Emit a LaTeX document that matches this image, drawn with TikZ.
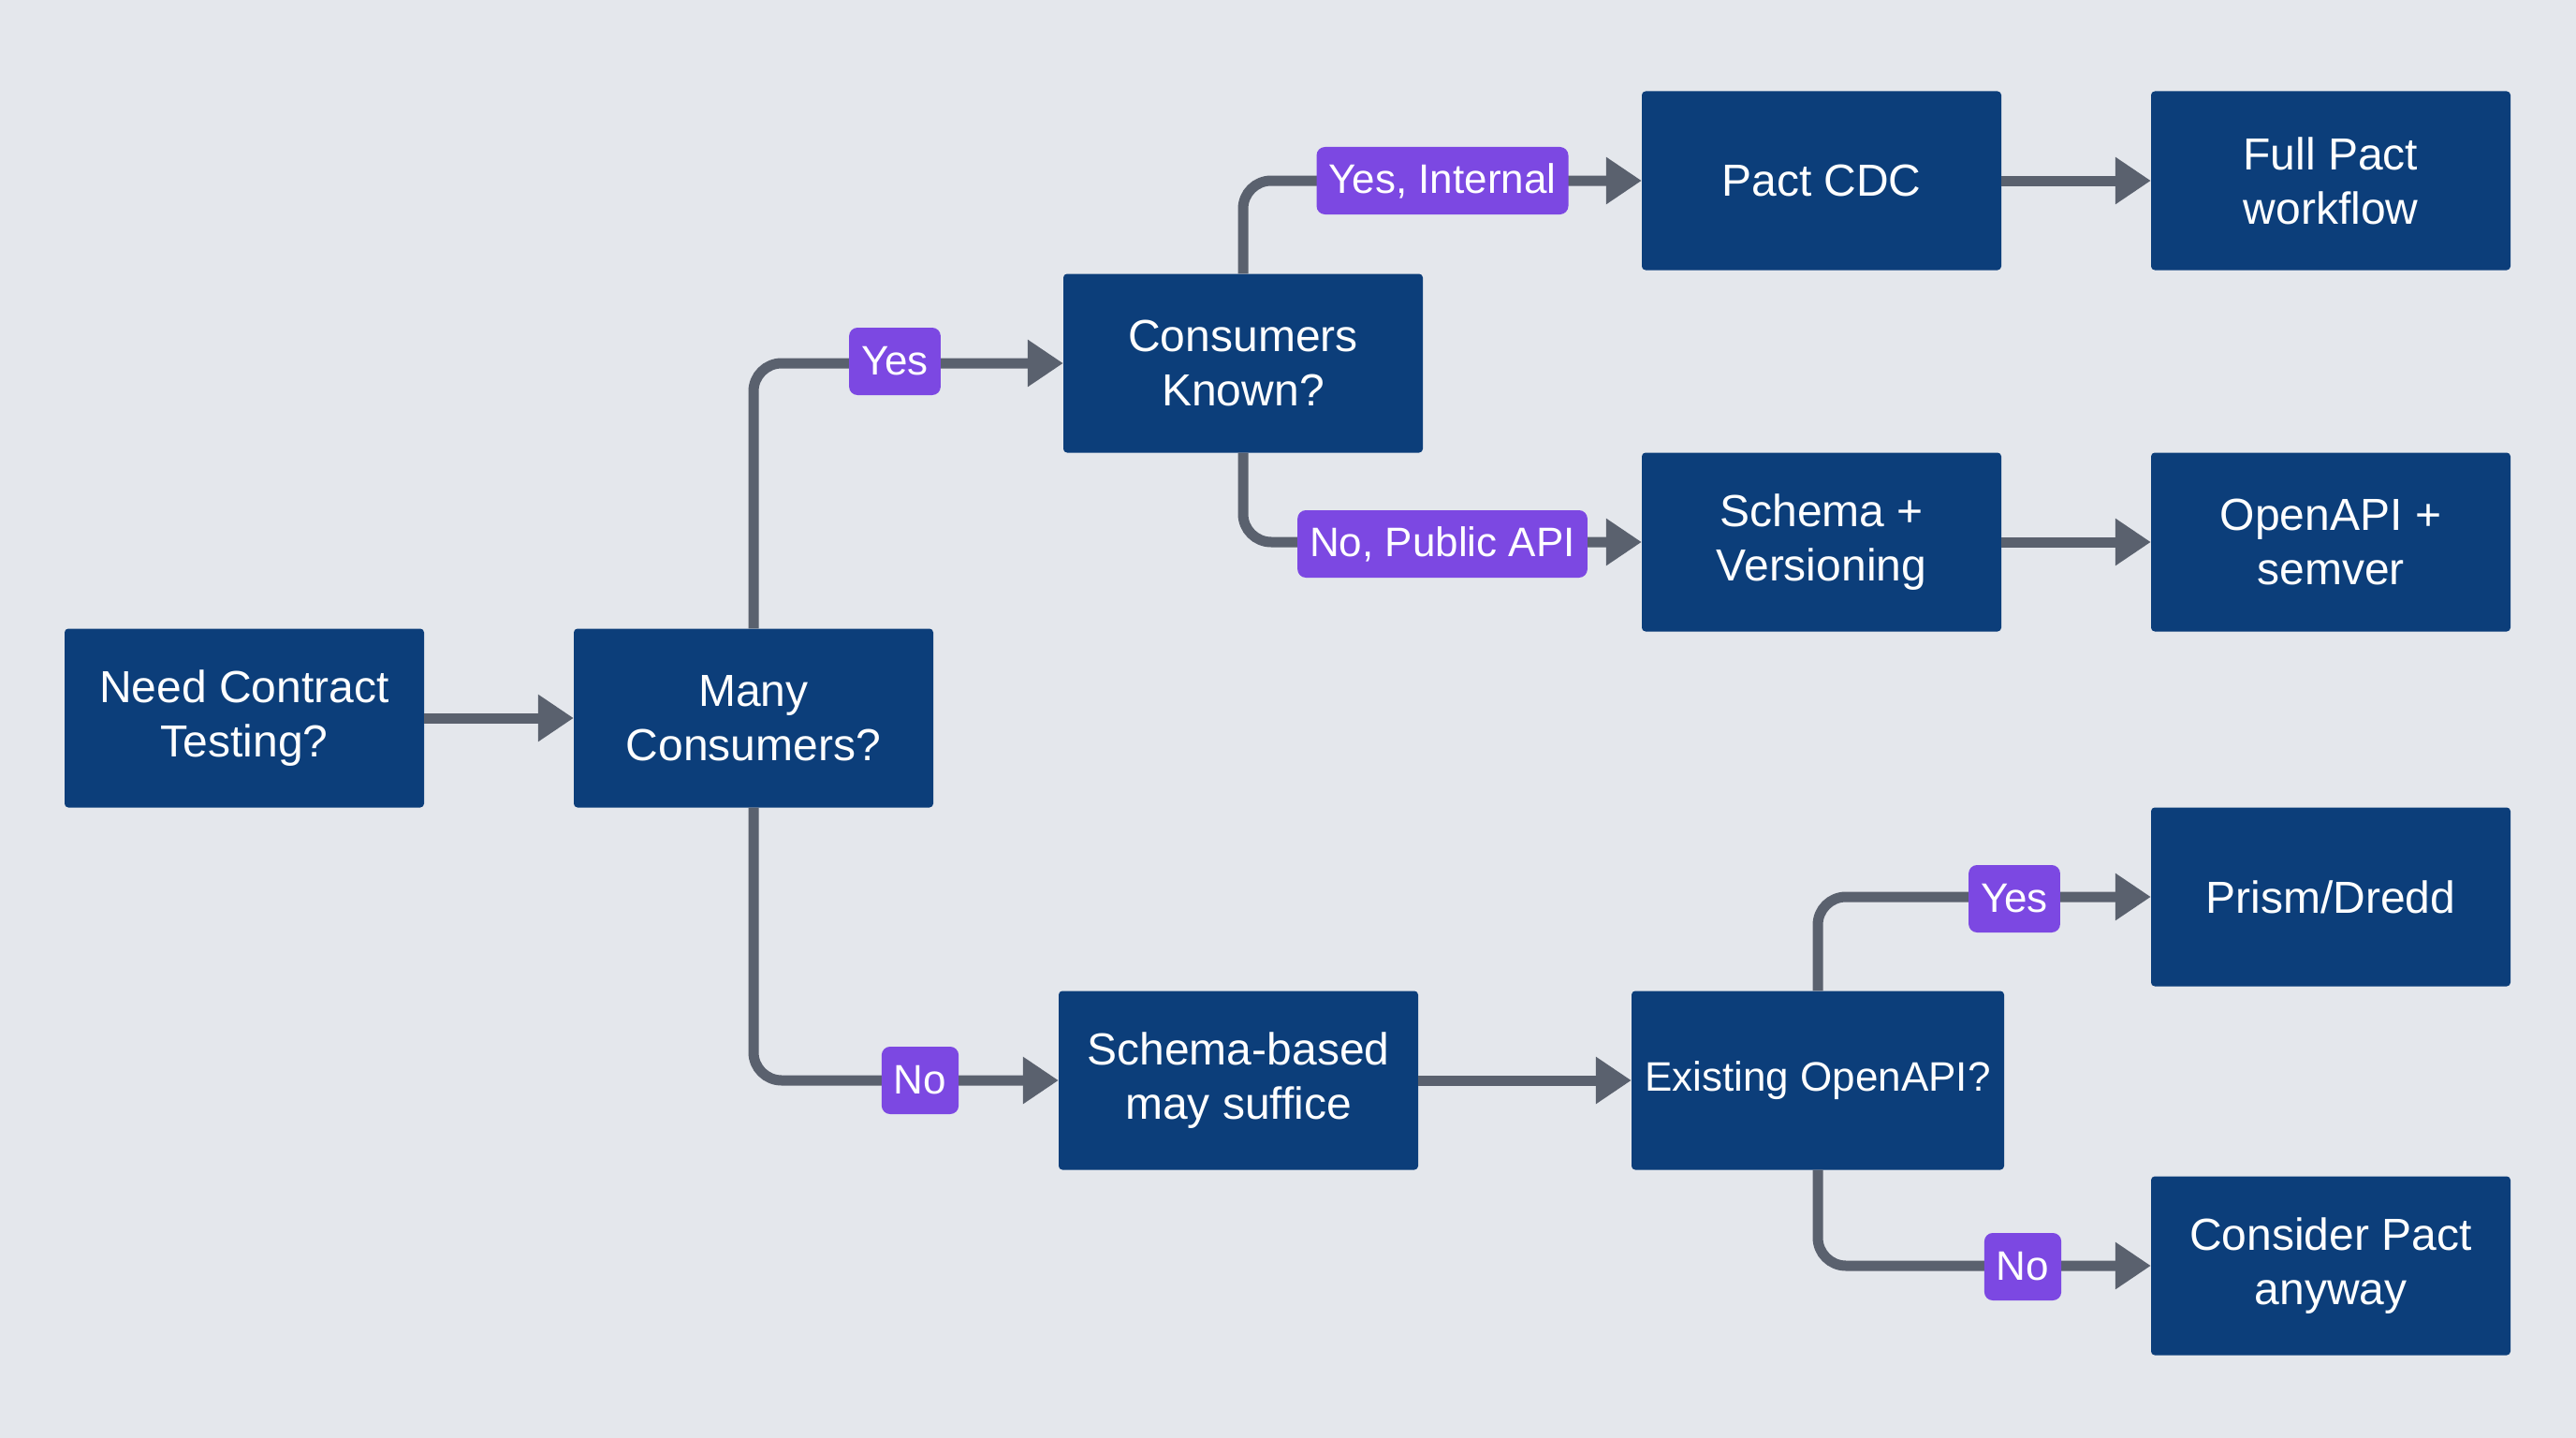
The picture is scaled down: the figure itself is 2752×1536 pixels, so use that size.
\documentclass[tikz,border=0pt]{standalone}
\usepackage{fontspec}
\setmainfont{Liberation Sans}
\usetikzlibrary{arrows.meta}
\definecolor{bg}{RGB}{228,231,236}
\definecolor{navy}{RGB}{12,62,122}
\definecolor{purp}{RGB}{124,72,226}
\definecolor{conn}{RGB}{90,97,110}
\tikzset{
  box/.style={fill=navy, draw=none, rounded corners=4pt, text=white, align=center,
    minimum width=384pt, minimum height=191pt, inner sep=0pt,
    font=\fontsize{48}{58}\selectfont},
  lbl/.style={fill=purp, draw=none, rounded corners=9pt, text=white,
    minimum height=72pt, inner xsep=13pt, inner ysep=0pt,
    font=\fontsize{44}{50}\selectfont},
  link/.style={draw=conn, line width=11pt, rounded corners=30pt,
    -{Triangle[length=38pt,width=48pt]}},
}
\begin{document}
\begin{tikzpicture}[x=1pt,y=1pt]
\fill[bg] (0,0) rectangle (2752,-1536);
\useasboundingbox (0,0) rectangle (2752,-1536);

\node[box] (A) at (261,-767) {Need Contract\\Testing?};
\node[box] (B) at (805,-767) {Many\\Consumers?};
\node[box] (C) at (1328,-388) {Consumers\\Known?};
\node[box] (D) at (1946,-193) {Pact CDC};
\node[box] (E) at (2490,-193) {Full Pact\\workflow};
\node[box] (F) at (1946,-579) {Schema +\\Versioning};
\node[box] (G) at (2490,-579) {OpenAPI +\\semver};
\node[box] (H) at (1323,-1154) {Schema-based\\may suffice};
\node[box, minimum width=398pt, font=\fontsize{44}{58}\selectfont] (I) at (1942,-1154) {Existing OpenAPI?};
\node[box] (J) at (2490,-958) {Prism/Dredd};
\node[box] (K) at (2490,-1352) {Consider Pact\\anyway};

\draw[link] (A) -- (B);
\draw[link] (B.north) |- (C.west);
\draw[link] (B.south) |- (H.west);
\draw[link] (C.north) |- (D.west);
\draw[link] (C.south) |- (F.west);
\draw[link] (D) -- (E);
\draw[link] (F) -- (G);
\draw[link] (H) -- (I);
\draw[link] (I.north) |- (J.west);
\draw[link] (I.south) |- (K.west);

\node[lbl] (l1) at (956,-386) {Yes};
\node[lbl] (l2) at (983,-1154) {No};
\node[lbl] (l3) at (1541,-193) {Yes, Internal};
\node[lbl] (l4) at (1541,-581) {No, Public API};
\node[lbl] (l5) at (2152,-960) {Yes};
\node[lbl] (l6) at (2161,-1353) {No};
\end{tikzpicture}
\end{document}
